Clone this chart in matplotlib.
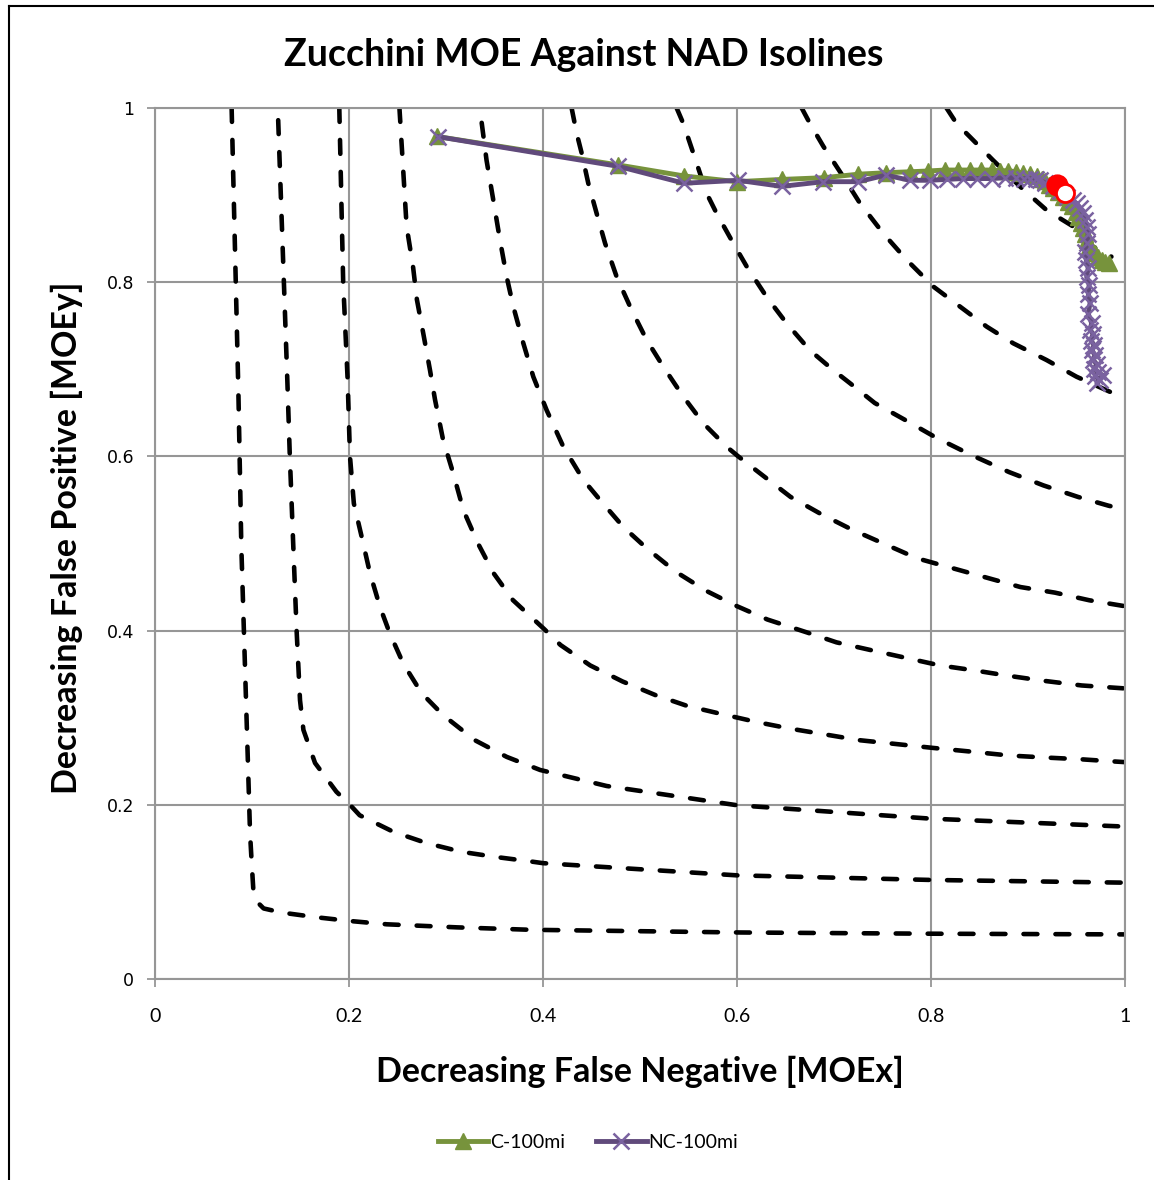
import matplotlib
matplotlib.use("Agg")
import matplotlib.pyplot as plt
from matplotlib.lines import Line2D

# NAD isolines (one x/y pair per isoline)
nad1_x = [0.079, 0.086, 0.089, 0.0935, 0.0955, 0.098, 0.0997, 0.1014, 0.1048, 0.112, 0.131, 0.167, 0.201, 0.239, 0.311, 0.387, 0.604, 0.80, 1.0]
nad1_y = [1.0, 0.672, 0.496, 0.332, 0.259, 0.167, 0.133, 0.102, 0.089, 0.081, 0.0762, 0.0708, 0.0666, 0.0628, 0.0593, 0.0565, 0.0534, 0.052, 0.0512]
nad2_x = [0.127, 0.1364, 0.139, 0.1426, 0.146, 0.1495, 0.153, 0.165, 0.187, 0.201, 0.211, 0.2457, 0.28, 0.316, 0.352, 0.387, 0.4, 0.6, 0.801, 1.0]
nad2_y = [0.986, 0.688, 0.60, 0.496, 0.40, 0.320, 0.286, 0.248, 0.215, 0.2, 0.188, 0.169, 0.156, 0.146, 0.140, 0.135, 0.133, 0.119, 0.1137, 0.1106]
nad3_x = [0.19, 0.194, 0.1986, 0.201, 0.205, 0.213, 0.2216, 0.232, 0.242, 0.256, 0.275, 0.297, 0.33, 0.3626, 0.397, 0.4656, 0.6, 0.801, 1.0]
nad3_y = [1.0, 0.80, 0.688, 0.60, 0.546, 0.508, 0.466, 0.427, 0.397, 0.362, 0.328, 0.303, 0.274, 0.255, 0.240, 0.2216, 0.1995, 0.184, 0.175]
nad4_x = [0.252, 0.2594, 0.266, 0.27, 0.2766, 0.2835, 0.2887, 0.297, 0.3076, 0.318, 0.333, 0.349, 0.369, 0.401, 0.418, 0.4487, 0.482, 0.5158,
          0.549, 0.585, 0.6204, 0.655, 0.6907, 0.726, 0.7638, 0.8013, 0.8408, 0.8805, 0.9158, 0.9554, 0.985, 1.0]
nad4_y = [1.0, 0.864, 0.818, 0.78, 0.741, 0.699, 0.665, 0.619, 0.58, 0.538, 0.50, 0.466, 0.435, 0.402, 0.3835, 0.360, 0.3416, 0.326,
          0.3134, 0.304, 0.295, 0.2874, 0.2808, 0.2742, 0.2698, 0.2654, 0.2611, 0.2566, 0.2544, 0.2522, 0.250, 0.249]
nad5_x = [0.3368, 0.3418, 0.3488, 0.3557, 0.3626, 0.3694, 0.3797, 0.39, 0.4038, 0.421, 0.4416, 0.4588, 0.4828, 0.5069, 0.5367, 0.568, 0.6,
          0.6314, 0.6732, 0.7026, 0.738, 0.7737, 0.8093, 0.8448, 0.8805, 0.916, 0.9554, 1.0]
nad5_y = [0.983, 0.94, 0.894, 0.848, 0.806, 0.772, 0.730, 0.6915, 0.653, 0.611, 0.573, 0.55, 0.519, 0.4945, 0.4677, 0.4458, 0.428,
          0.4127, 0.3975, 0.3865, 0.3776, 0.3688, 0.360, 0.3543, 0.348, 0.3424, 0.337, 0.3336]
nad6_x = [0.4295, 0.4347, 0.4399, 0.4467, 0.4553, 0.464, 0.476, 0.4914, 0.5069, 0.524, 0.5447, 0.5653, 0.5894, 0.6013, 0.6237, 0.6552,
          0.6868, 0.7184, 0.754, 0.7856, 0.8211, 0.8567, 0.8922, 0.9277, 0.9633, 1.0]
nad6_y = [1.0, 0.971, 0.948, 0.9135, 0.879, 0.8447, 0.806, 0.768, 0.7336, 0.703, 0.6685, 0.638, 0.611, 0.6, 0.5806, 0.5535,
          0.5337, 0.516, 0.4985, 0.483, 0.472, 0.461, 0.450, 0.4436, 0.4348, 0.428]
nad7_x = [0.5378, 0.5447, 0.555, 0.5687, 0.579, 0.596, 0.61, 0.6306, 0.651, 0.675, 0.6993, 0.7165, 0.742, 0.7737, 0.805, 0.8408, 0.8805,
          0.9159, 0.9515, 0.983, 1.0]
nad7_y = [1.0, 0.982, 0.948, 0.902, 0.879, 0.845, 0.818, 0.783, 0.753, 0.722, 0.699, 0.684, 0.6613, 0.6416, 0.6217, 0.602, 0.582,
          0.5667, 0.5535, 0.5434, 0.539]
nad8_x = [0.6667, 0.6753, 0.689, 0.7096, 0.7268, 0.7508, 0.775, 0.8024, 0.8299, 0.8574, 0.8849, 0.919, 0.950, 0.988, 1.0]
nad8_y = [1.0, 0.982, 0.956, 0.921, 0.8906, 0.856, 0.8255, 0.795, 0.772, 0.749, 0.7298, 0.7107, 0.6915, 0.6724, 0.667]
nad9_x = [0.816, 0.8265, 0.840, 0.864, 0.892, 0.919, 0.947, 0.967, 0.986]
nad9_y = [1.0, 0.982, 0.967, 0.940, 0.9096, 0.8829, 0.8637, 0.8407, 0.8293]

# MOE curves
c100_x = [0.291, 0.4777, 0.5454, 0.5997, 0.646, 0.6897, 0.725, 0.7536, 0.778, 0.797, 0.8144, 0.828, 0.840, 0.852, 0.8626, 0.871,
          0.8797, 0.888, 0.895, 0.902, 0.909, 0.914, 0.918, 0.922, 0.926, 0.931, 0.9364, 0.941, 0.945, 0.949, 0.952, 0.955, 0.957,
          0.959, 0.9605, 0.963, 0.9656, 0.969, 0.9725, 0.976, 0.9794, 0.983]
c100_y = [0.9673, 0.9346, 0.922, 0.9154, 0.918, 0.920, 0.924, 0.9257, 0.9268, 0.9277, 0.9288, 0.9288, 0.9288, 0.9288, 0.9288, 0.928,
          0.928, 0.9268, 0.925, 0.924, 0.922, 0.919, 0.916, 0.912, 0.908, 0.903, 0.898, 0.892, 0.887, 0.881, 0.875, 0.868, 0.862,
          0.855, 0.848, 0.842, 0.837, 0.833, 0.8293, 0.826, 0.8235, 0.8217]
nc100_x = [0.292, 0.4777, 0.5454, 0.601, 0.646, 0.689, 0.725, 0.7536, 0.778, 0.799, 0.816, 0.833, 0.847, 0.8626, 0.876, 0.888, 0.896,
           0.902, 0.908, 0.912, 0.918, 0.926, 0.933, 0.940, 0.946, 0.950, 0.954, 0.957, 0.959, 0.9605, 0.962, 0.9605, 0.959, 0.96,
           0.962, 0.9605, 0.963, 0.9622, 0.964, 0.962, 0.9656, 0.964, 0.967, 0.965, 0.968, 0.966, 0.969, 0.967, 0.9708, 0.968,
           0.972, 0.969, 0.974, 0.971, 0.977]
nc100_y = [0.967, 0.933, 0.9136, 0.917, 0.910, 0.9154, 0.9154, 0.923, 0.917, 0.917, 0.918, 0.919, 0.919, 0.919, 0.920, 0.920, 0.919,
           0.919, 0.918, 0.917, 0.914, 0.910, 0.905, 0.898, 0.894, 0.8905, 0.885, 0.879, 0.871, 0.8637, 0.855, 0.845, 0.835, 0.826,
           0.816, 0.806, 0.797, 0.787, 0.776, 0.764, 0.753, 0.745, 0.741, 0.733, 0.728, 0.722, 0.716, 0.711, 0.706, 0.700,
           0.697, 0.692, 0.688, 0.684, 0.693]
best_filled = (0.930, 0.9116)
best_open = (0.938, 0.902)

GREEN = "#77933C"
PURPLE = "#604A7B"
XMARK = "#7A62A0"
GRID = "#969696"
FONT = "Lato"

plt.rcParams["lines.scale_dashes"] = False

fig = plt.figure(figsize=(11.54, 11.8), dpi=100)
ax = fig.add_axes([155 / 1154, 1 - 979 / 1180, 970 / 1154, 871 / 1180])

isolines = [(nad1_x, nad1_y), (nad2_x, nad2_y), (nad3_x, nad3_y), (nad4_x, nad4_y), (nad5_x, nad5_y),
            (nad6_x, nad6_y), (nad7_x, nad7_y), (nad8_x, nad8_y), (nad9_x, nad9_y)]
for xs, ys in isolines:
    ax.plot(xs, ys, color="black", lw=3.3, dashes=(10, 13), dash_capstyle="round", zorder=2)

ax.plot(c100_x, c100_y, color=GREEN, lw=3.5, marker="^", ms=11, mec=GREEN, mfc=GREEN, zorder=3)
ax.plot(nc100_x, nc100_y, color=PURPLE, lw=3.5, marker="x", ms=11, mew=1.8, mec=XMARK, zorder=4)
ax.plot(*best_filled, marker="o", ms=14, mfc="red", mec="red", mew=2, zorder=5)
ax.plot(*best_open, marker="o", ms=13, mfc="white", mec="red", mew=2, zorder=6)

ax.set_xlim(0, 1)
ax.set_ylim(0, 1)
ticks = [0, 0.2, 0.4, 0.6, 0.8, 1.0]
tick_labels = ["0", "0.2", "0.4", "0.6", "0.8", "1"]
ax.set_xticks(ticks)
ax.set_xticklabels(tick_labels, fontsize=14, family=FONT)
ax.set_yticks(ticks)
ax.set_yticklabels(tick_labels, fontsize=12.5, family="DejaVu Sans")
ax.tick_params(axis="x", length=6, width=1.3, color=GRID, pad=15)
ax.tick_params(axis="y", length=6, width=1.3, color=GRID, pad=9)
ax.grid(True, color=GRID, lw=1.5, zorder=0)
ax.set_axisbelow(True)
for sp in ax.spines.values():
    sp.set_color(GRID)
    sp.set_linewidth(1.5)

fig.text(584 / 1154, 1 - 55 / 1180, "Zucchini MOE Against NAD Isolines", ha="center", va="center",
         fontsize=27, fontweight="bold", family=FONT)
fig.text(640 / 1154, 1 - 1072 / 1180, "Decreasing False Negative [MOEx]", ha="center", va="center",
         fontsize=24.5, fontweight="bold", family=FONT)
fig.text(67 / 1154, 1 - 538 / 1180, "Decreasing False Positive [MOEy]", ha="center", va="center",
         rotation=90, fontsize=24.5, fontweight="bold", family=FONT)

handles = [Line2D([], [], color=GREEN, lw=3.5, marker="^", ms=11, mfc=GREEN, mec=GREEN),
           Line2D([], [], color=PURPLE, lw=3.5, marker="x", ms=11, mew=1.8, mec=XMARK)]
fig.legend(handles, ["C-100mi", "NC-100mi"], loc="center", bbox_to_anchor=(588 / 1154, 1 - 1142 / 1180),
           ncol=2, frameon=False, prop={"family": FONT, "size": 14}, handlelength=2.6,
           handletextpad=0.1, columnspacing=1.6)

# chart-area border (left and top edges visible in the crop)
fig.add_artist(Line2D([8.5 / 1154, 8.5 / 1154], [0, 1 - 6 / 1180], color="black", lw=1.5,
                      transform=fig.transFigure))
fig.add_artist(Line2D([8.5 / 1154, 1], [1 - 6 / 1180, 1 - 6 / 1180], color="black", lw=1.5,
                      transform=fig.transFigure))

fig.savefig("out.png", dpi=100)
